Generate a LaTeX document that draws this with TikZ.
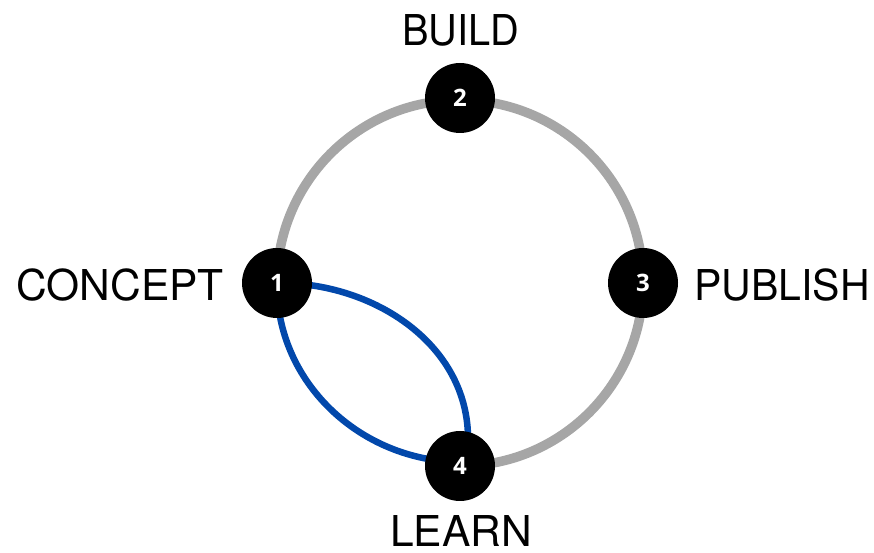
\documentclass[tikz,border=0pt]{standalone}
\usepackage{fontspec}
\setmainfont{TeX Gyre Heros}
\newfontfamily\numfont{Open Sans}
\definecolor{ringgrey}{RGB}{166,166,166}
\definecolor{loopblue}{RGB}{2,72,171}
\begin{document}
\begin{tikzpicture}[x=1pt,y=1pt,
  stage/.style={circle,fill=black,minimum size=70pt,inner sep=0pt,
    text=white,font=\numfont\bfseries\fontsize{24}{24}\selectfont},
  label text/.style={inner sep=0pt,font=\fontsize{42.5}{42.5}\selectfont},
  ring/.style={ringgrey,line width=9.5pt},
  feedback/.style={loopblue,line width=6.5pt}]
\useasboundingbox (0,0) rectangle (874,553);

% cycle ring: open between CONCEPT and LEARN
\coordinate (c) at (460,270);
\draw[ring] (277,270) arc[start angle=180,end angle=-90,radius=183];

% feedback loop between LEARN and CONCEPT
\coordinate (p1) at (277,270);
\coordinate (q4a) at (468,113);
\coordinate (q4b) at (460,91);
\draw[feedback] (p1) .. controls (374,271) and (469,208) .. (q4a);
\draw[feedback] (p1) .. controls (276,171) and (360,92) .. (q4b);

% stages
\node[stage] (n1) at (277,270) {1};
\node[stage] (n2) at (460,455) {2};
\node[stage] (n3) at (643,270) {3};
\node[stage] (n4) at (460,87) {4};

% stage names
\node[label text,anchor=base] (t2) at (461,507) {\scalebox{0.935}[1]{BUILD}};
\node[label text,anchor=base east] (t1) at (224,252) {CONCEPT};
\node[label text,anchor=base west] (t3) at (694,252) {\scalebox{0.965}[1]{PUBLISH}};
\node[label text,anchor=base] (t4) at (461,6) {LEARN};
\end{tikzpicture}
\end{document}
